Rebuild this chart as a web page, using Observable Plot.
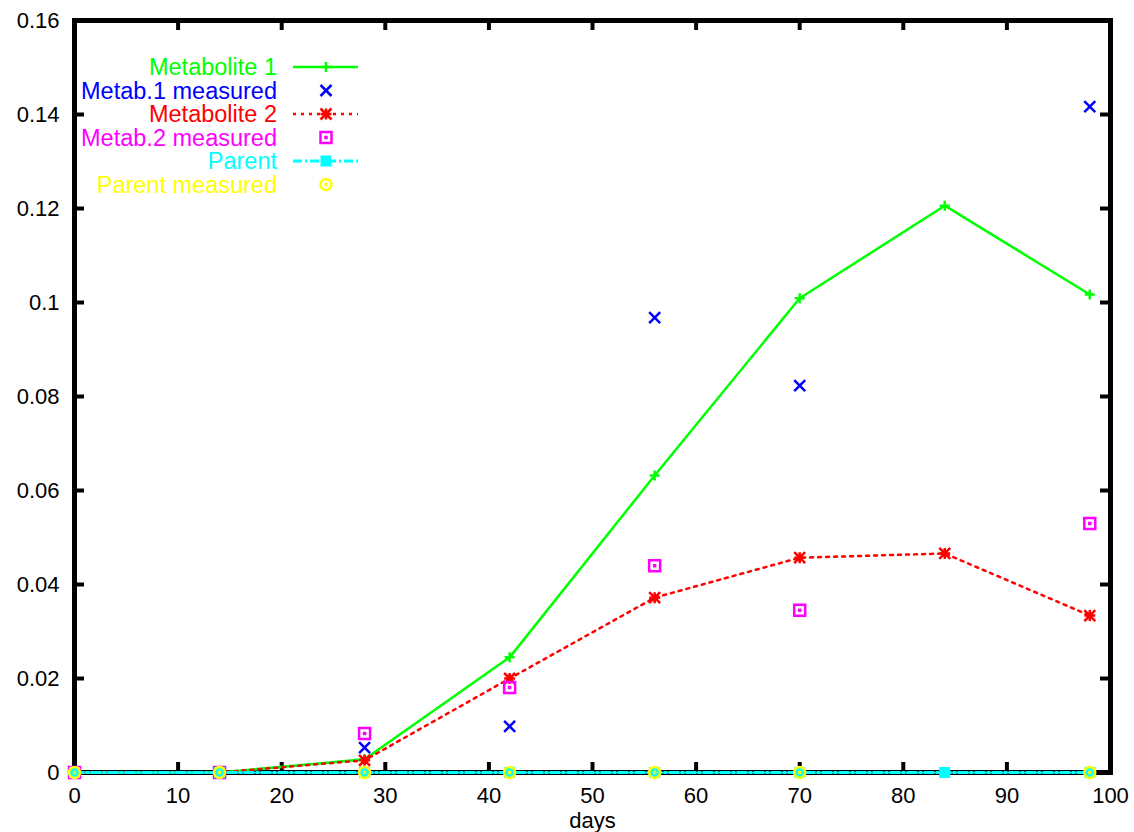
<!DOCTYPE html>
<html><head><meta charset="utf-8">
<script src="https://cdn.jsdelivr.net/npm/d3@7"></script>
<script src="https://cdn.jsdelivr.net/npm/@observablehq/plot@0.6"></script>
<style>body{margin:0;background:#fff} #chart{position:relative;width:1134px;height:832px}</style>
</head><body><div id="chart"></div>
<script>
// ---- data ----
const days = [0, 14, 28, 42, 56, 70, 84, 98];
const metabolite1 = [0, 0, 0.0028, 0.0245, 0.0632, 0.1009, 0.1206, 0.1017];
const metabolite2 = [0, 0, 0.0026, 0.0200, 0.0372, 0.0457, 0.0466, 0.0334];
const parent = [0, 0, 0, 0, 0, 0, 0, 0];
const measuredDays = [0, 14, 28, 42, 56, 70, 98];
const metab1Measured = [0, 0, 0.0053, 0.0098, 0.0968, 0.0823, 0.1417];
const metab2Measured = [0, 0, 0.0083, 0.0181, 0.0440, 0.0345, 0.0530];
const parentMeasured = [0, 0, 0, 0, 0, 0, 0];
const xTicks = [0, 10, 20, 30, 40, 50, 60, 70, 80, 90, 100];
const xTickLabels = ["0", "10", "20", "30", "40", "50", "60", "70", "80", "90", "100"];
const yTicks = [0, 0.02, 0.04, 0.06, 0.08, 0.1, 0.12, 0.14, 0.16];
const yTickLabels = ["0", "0.02", "0.04", "0.06", "0.08", "0.1", "0.12", "0.14", "0.16"];
const seriesNames = ["Metabolite 1", "Metab.1 measured", "Metabolite 2", "Metab.2 measured", "Parent", "Parent measured"];
const seriesColors = ["#00ff00", "#0000ff", "#ff0000", "#ff00ff", "#00ffff", "#ffff00"];
const xLabel = "days";

// ---- symbols (half-extent = r) ----
const half = size => Math.sqrt(size / Math.PI);
const symPlus = {draw(c, size){const s = half(size); c.moveTo(-s,0); c.lineTo(s,0); c.moveTo(0,-s); c.lineTo(0,s);}};
const symTimes = {draw(c, size){const s = half(size); c.moveTo(-s,-s); c.lineTo(s,s); c.moveTo(-s,s); c.lineTo(s,-s);}};
const symStar = {draw(c, size){const s = half(size); c.moveTo(-s,0); c.lineTo(s,0); c.moveTo(0,-s); c.lineTo(0,s); c.moveTo(-s,-s); c.lineTo(s,s); c.moveTo(-s,s); c.lineTo(s,-s);}};
const symBoxDot = {draw(c, size){const s = half(size); c.rect(-s,-s,2*s,2*s); c.rect(-0.5,-0.5,1,1);}};
const symBox = {draw(c, size){const s = half(size); c.rect(-s,-s,2*s,2*s);}};
const symCircleDot = {draw(c, size){const s = half(size); c.moveTo(s,0); c.arc(0,0,s,0,2*Math.PI); c.moveTo(0.7,0); c.arc(0,0,0.7,0,2*Math.PI);}};

const W = 1134, H = 832, mL = 74, mR = 24, mT = 20, mB = 60;
const plotW = W - mL - mR, plotH = H - mT - mB;
const tickLen = 10;
const rows = (xs, ys) => xs.map((x, i) => ({x, y: ys[i]}));
const m1 = rows(days, metabolite1), m2 = rows(days, metabolite2), p = rows(days, parent);
const m1m = rows(measuredDays, metab1Measured), m2m = rows(measuredDays, metab2Measured), pm = rows(measuredDays, parentMeasured);

const styles = [
  {line: {strokeWidth: 2.5}, sym: symPlus, r: 5, sw: 2.5},
  {line: null, sym: symTimes, r: 5.5, sw: 2.5},
  {line: {strokeWidth: 2.5, strokeDasharray: "3,5"}, sym: symStar, r: 5.5, sw: 2.5},
  {line: null, sym: symBoxDot, r: 5.5, sw: 2.5},
  {line: {strokeWidth: 3, strokeDasharray: "9,3,2,3"}, sym: symBox, r: 5.5, sw: 0, fill: true},
  {line: null, sym: symCircleDot, r: 5.5, sw: 2.5}
];
const datasets = [m1, m1m, m2, m2m, p, pm];

const dataMarks = [];
datasets.forEach((d, i) => {
  const st = styles[i], col = seriesColors[i];
  if (st.line) dataMarks.push(Plot.line(d, {x: "x", y: "y", stroke: col, ...st.line}));
  dataMarks.push(Plot.dot(d, {x: "x", y: "y", symbol: st.sym, r: st.r,
    stroke: st.fill ? "none" : col, fill: st.fill ? col : "none", strokeWidth: st.sw}));
});

const chart = Plot.plot({
  width: W, height: H, marginLeft: mL, marginRight: mR, marginTop: mT, marginBottom: mB,
  style: {fontFamily: "'Liberation Sans', Arial, sans-serif", fontSize: "22px", background: "#fff", color: "#000"},
  x: {domain: [0, 100]},
  y: {domain: [0, 0.16]},
  marks: [
    Plot.ruleX(xTicks, {x: d => d, insetTop: plotH - tickLen, stroke: "#000", strokeWidth: 4}),
    Plot.ruleX(xTicks, {x: d => d, insetBottom: plotH - tickLen, stroke: "#000", strokeWidth: 4}),
    Plot.ruleY(yTicks, {y: d => d, insetRight: plotW - tickLen, stroke: "#000", strokeWidth: 4}),
    Plot.ruleY(yTicks, {y: d => d, insetLeft: plotW - tickLen, stroke: "#000", strokeWidth: 4}),
    Plot.axisX(xTicks, {tickSize: 0, tickPadding: 15, tickFormat: d => xTickLabels[xTicks.indexOf(d)], label: null, fontSize: 22}),
    Plot.axisY(yTicks, {tickSize: 0, tickPadding: 15, tickFormat: d => yTickLabels[yTicks.indexOf(d)], label: null, fontSize: 22}),
    Plot.text([xLabel], {frameAnchor: "bottom", dy: 48, lineAnchor: "middle", fontSize: 22, fill: "#000"}),
    Plot.frame({stroke: "#000", strokeWidth: 5}),
    ...dataMarks
  ]
});
document.getElementById("chart").appendChild(chart);

// ---- legend (inside the plot, top-left) ----
const svg = d3.select(chart);
const lg = svg.append("g").attr("font-family", "'Liberation Sans', Arial, sans-serif").attr("font-size", 23.5);
const lx = 277, ly0 = 67, ldy = 23.5, lineX1 = 293, lineX2 = 358, symX = 326;
seriesNames.forEach((name, i) => {
  const y = ly0 + i * ldy, st = styles[i], col = seriesColors[i];
  lg.append("text").attr("x", lx).attr("y", y).attr("text-anchor", "end").attr("dy", "0.35em").attr("fill", col).text(name);
  if (st.line) {
    lg.append("line").attr("x1", lineX1).attr("x2", lineX2).attr("y1", y).attr("y2", y)
      .attr("stroke", col).attr("stroke-width", st.line.strokeWidth).attr("stroke-dasharray", st.line.strokeDasharray || null);
  }
  lg.append("path").attr("transform", `translate(${symX},${y})`)
    .attr("d", d3.symbol(st.sym, Math.PI * st.r * st.r)())
    .attr("fill", st.fill ? col : "none").attr("stroke", st.fill ? "none" : col).attr("stroke-width", st.sw);
});
</script>
</body></html>
